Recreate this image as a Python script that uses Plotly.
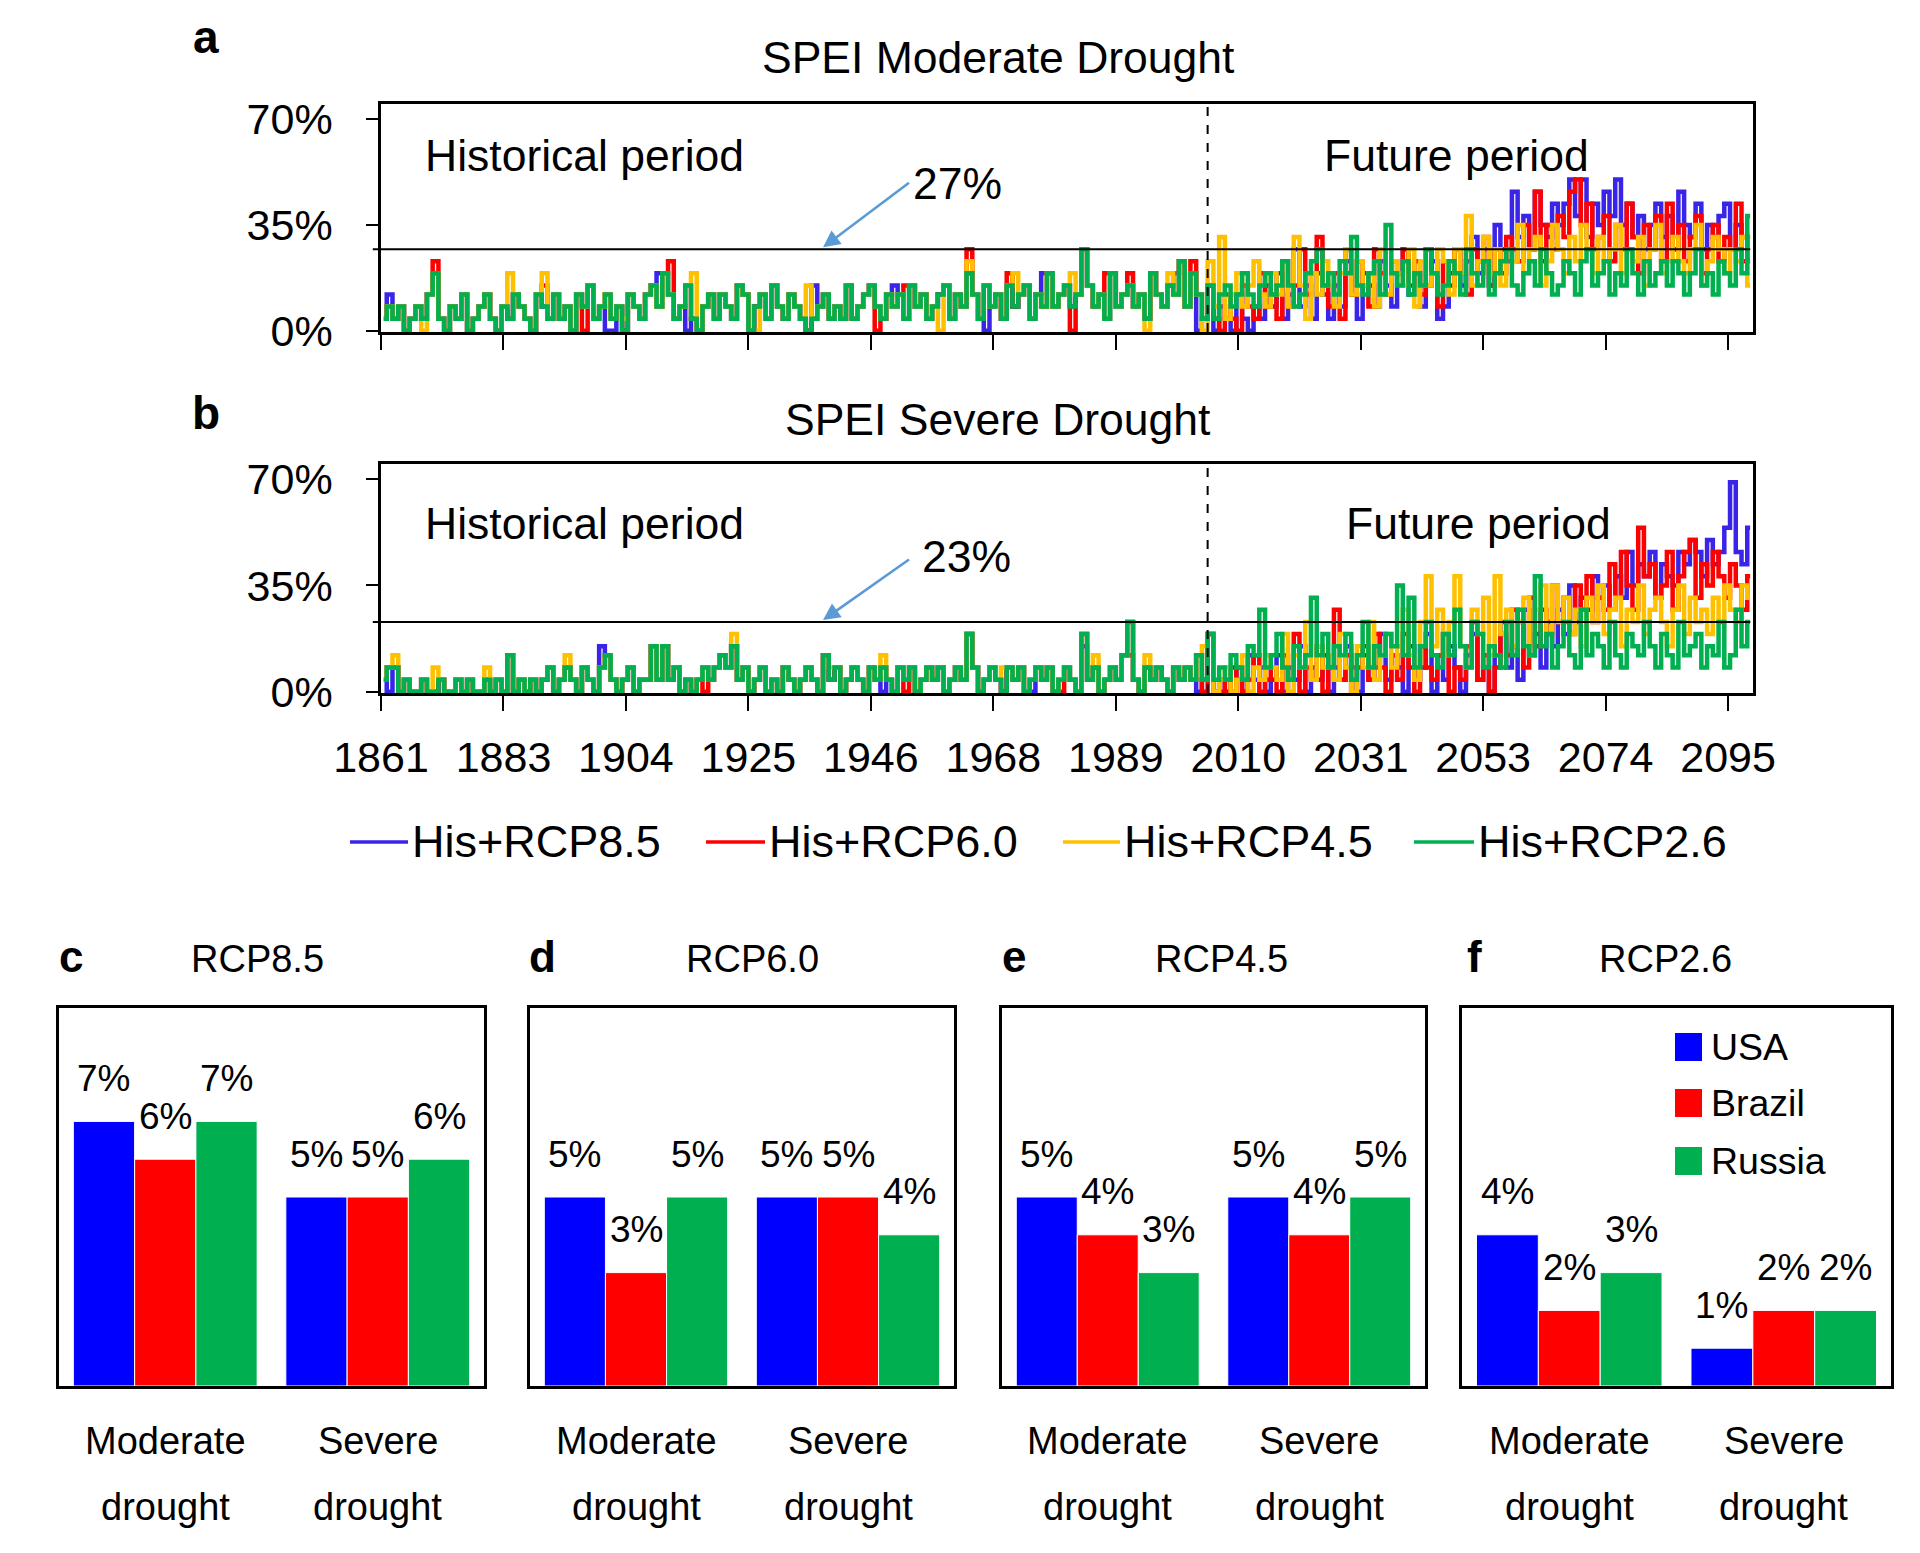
import plotly.graph_objects as go

W, H = 1920, 1553
FONT = "Liberation Sans, Arial, sans-serif"

# ---------------- time axis ----------------
years_his = list(range(1861, 2006))   # 145 years
years_fut = list(range(2006, 2100))   # 94 years
x_tick_labels = ["1861", "1883", "1904", "1925", "1946", "1968",
                 "1989", "2010", "2031", "2053", "2074", "2095"]
x_tick_step_years = 256 / 12
hist_end_year = 2005
thresholds = {"a": 27, "b": 23}

series_names = ["His+RCP8.5", "His+RCP6.0", "His+RCP4.5", "His+RCP2.6"]
line_colors = ["#3A24E8", "#FF0000", "#FFC000", "#00B050"]

# ---------------- panel a: SPEI moderate drought (% area) ----------------
a_his_85 = [4, 12, 4, 8, 0, 4, 8, 4, 12, 19,
            4, 0, 8, 4, 12, 0, 4, 8, 12, 4,
            0, 8, 4, 12, 8, 4, 0, 12, 8, 4,
            12, 4, 8, 0, 12, 8, 15, 4, 8, 0,
            0, 8, 0, 12, 8, 4, 12, 15, 19, 19,
            12, 4, 8, 0, 4, 0, 8, 12, 4, 12,
            8, 4, 15, 12, 0, 8, 12, 4, 15, 8,
            4, 12, 8, 4, 0, 15, 8, 12, 4, 8,
            4, 15, 4, 8, 12, 15, 8, 4, 12, 15,
            12, 4, 15, 8, 12, 4, 8, 12, 15, 4,
            12, 8, 19, 12, 4, 0, 8, 12, 4, 15,
            8, 12, 15, 4, 12, 19, 19, 8, 12, 15,
            8, 12, 27, 15, 8, 12, 4, 19, 8, 12,
            15, 8, 12, 4, 19, 12, 8, 15, 19, 23,
            8, 19, 0, 4, 15]
a_his_60 = [4, 8, 4, 8, 0, 4, 8, 4, 12, 23,
            4, 0, 8, 4, 12, 0, 4, 8, 12, 4,
            0, 8, 4, 12, 8, 4, 0, 12, 15, 4,
            12, 4, 8, 0, 12, 0, 15, 4, 8, 12,
            4, 8, 0, 12, 8, 4, 12, 15, 8, 19,
            23, 4, 8, 15, 4, 0, 8, 12, 4, 12,
            8, 4, 15, 12, 0, 8, 12, 4, 15, 8,
            4, 12, 8, 4, 0, 4, 8, 12, 4, 8,
            4, 15, 4, 8, 12, 15, 0, 4, 12, 8,
            12, 15, 15, 8, 12, 4, 8, 12, 15, 4,
            12, 8, 27, 12, 4, 15, 8, 12, 4, 19,
            8, 12, 15, 4, 12, 8, 19, 8, 12, 15,
            0, 12, 27, 15, 8, 12, 19, 19, 8, 12,
            19, 8, 12, 4, 19, 12, 8, 15, 12, 23,
            8, 23, 12, 4, 15]
a_his_45 = [4, 8, 4, 8, 0, 4, 8, 0, 12, 19,
            4, 0, 8, 4, 12, 0, 4, 8, 12, 4,
            0, 8, 19, 12, 8, 4, 0, 12, 19, 4,
            12, 4, 8, 0, 12, 8, 15, 4, 8, 12,
            4, 8, 4, 12, 8, 4, 12, 15, 8, 19,
            12, 4, 8, 15, 19, 0, 8, 12, 4, 12,
            8, 4, 15, 12, 0, 0, 12, 4, 15, 8,
            4, 12, 8, 4, 15, 4, 8, 12, 4, 8,
            4, 15, 4, 8, 12, 15, 8, 4, 12, 8,
            12, 4, 15, 8, 12, 4, 8, 0, 15, 4,
            12, 8, 23, 12, 4, 15, 8, 12, 4, 15,
            19, 12, 15, 4, 12, 8, 19, 8, 12, 15,
            19, 12, 27, 15, 8, 12, 4, 19, 8, 12,
            15, 8, 12, 0, 19, 12, 8, 19, 12, 23,
            8, 19, 12, 0, 23]
a_his_26 = [4, 8, 4, 8, 0, 4, 8, 4, 12, 19,
            4, 0, 8, 4, 12, 0, 4, 8, 12, 4,
            0, 8, 4, 12, 8, 4, 0, 12, 8, 4,
            12, 4, 8, 0, 12, 8, 15, 4, 8, 12,
            4, 8, 0, 12, 8, 4, 12, 15, 8, 19,
            12, 4, 8, 15, 4, 0, 8, 12, 4, 12,
            8, 4, 15, 12, 0, 8, 12, 4, 15, 8,
            4, 12, 8, 4, 0, 4, 8, 12, 4, 8,
            4, 15, 4, 8, 12, 15, 8, 4, 12, 8,
            12, 4, 15, 8, 12, 4, 8, 12, 15, 4,
            12, 8, 19, 12, 4, 15, 8, 12, 4, 15,
            8, 12, 15, 4, 12, 8, 19, 8, 12, 15,
            8, 12, 27, 15, 8, 12, 4, 19, 8, 12,
            15, 8, 12, 4, 19, 12, 8, 15, 12, 23,
            8, 19, 12, 4, 15]

a_fut_85 = [0, 8, 4, 0, 12, 4, 0, 8, 4, 15,
            8, 19, 4, 12, 27, 8, 15, 4, 19, 12,
            4, 15, 8, 23, 12, 4, 19, 15, 8, 23,
            15, 8, 19, 27, 12, 19, 8, 15, 23, 4,
            8, 19, 27, 15, 23, 31, 19, 27, 15, 35,
            27, 23, 46, 31, 38, 27, 46, 35, 31, 42,
            35, 42, 50, 38, 50, 31, 42, 35, 46, 38,
            50, 35, 42, 31, 38, 27, 35, 42, 31, 38,
            27, 46, 35, 31, 42, 27, 35, 31, 38, 42,
            27, 35, 31, 23]
a_fut_60 = [4, 0, 12, 4, 0, 15, 8, 4, 19, 8,
            12, 4, 23, 8, 15, 27, 12, 19, 31, 15,
            8, 19, 4, 27, 12, 23, 15, 8, 27, 19,
            12, 23, 19, 27, 15, 23, 12, 27, 19, 8,
            23, 15, 27, 19, 12, 27, 23, 31, 15, 27,
            19, 31, 27, 23, 35, 27, 46, 23, 35, 27,
            38, 31, 46, 50, 35, 42, 27, 31, 38, 23,
            35, 27, 42, 31, 19, 35, 27, 38, 23, 42,
            27, 35, 23, 31, 38, 19, 27, 35, 23, 31,
            27, 42, 23, 31]
a_fut_45 = [8, 31, 4, 12, 19, 8, 15, 23, 12, 8,
            19, 12, 23, 8, 31, 15, 4, 19, 12, 23,
            15, 8, 19, 27, 12, 23, 15, 19, 8, 27,
            12, 23, 19, 15, 27, 8, 23, 15, 19, 27,
            23, 12, 27, 19, 38, 15, 23, 31, 19, 27,
            15, 27, 23, 35, 19, 27, 31, 15, 23, 35,
            27, 19, 31, 23, 35, 27, 19, 31, 23, 27,
            35, 19, 27, 23, 31, 15, 27, 35, 19, 23,
            31, 23, 19, 27, 35, 15, 23, 31, 27, 19,
            27, 23, 31, 15]
a_fut_26 = [4, 12, 15, 8, 12, 19, 12, 8, 15, 19,
            12, 15, 23, 15, 8, 12, 19, 23, 27, 15,
            19, 12, 23, 19, 31, 15, 12, 19, 23, 12,
            35, 19, 15, 23, 12, 19, 15, 27, 19, 12,
            15, 23, 19, 12, 27, 19, 15, 23, 12, 19,
            23, 27, 15, 12, 19, 23, 15, 27, 19, 12,
            15, 23, 19, 12, 23, 27, 15, 19, 23, 12,
            19, 15, 27, 19, 12, 23, 15, 19, 23, 15,
            23, 19, 12, 19, 27, 15, 19, 12, 23, 19,
            15, 27, 19, 38]

# ---------------- panel b: SPEI severe drought (% area) ----------------
b_his_85 = [4, 0, 8, 0, 4, 0, 0, 4, 0, 0,
            4, 0, 0, 4, 0, 4, 0, 0, 4, 0,
            4, 0, 12, 0, 4, 0, 4, 0, 4, 8,
            0, 4, 8, 4, 0, 8, 4, 0, 15, 12,
            4, 0, 4, 8, 0, 4, 4, 15, 4, 15,
            4, 8, 0, 4, 0, 4, 8, 4, 8, 12,
            8, 15, 4, 8, 0, 4, 8, 0, 4, 0,
            8, 4, 0, 4, 8, 4, 0, 12, 4, 8,
            0, 4, 8, 4, 0, 8, 4, 0, 4, 0,
            8, 4, 8, 0, 4, 8, 4, 8, 0, 4,
            8, 4, 19, 8, 0, 4, 8, 4, 0, 8,
            4, 8, 0, 0, 8, 4, 8, 0, 4, 8,
            4, 0, 15, 4, 8, 0, 4, 8, 4, 12,
            23, 4, 0, 8, 4, 8, 4, 0, 8, 4,
            8, 4, 0, 4, 19]
b_his_60 = [4, 8, 8, 0, 4, 0, 0, 4, 0, 0,
            4, 0, 0, 4, 0, 4, 0, 0, 4, 0,
            4, 0, 12, 0, 4, 0, 4, 0, 4, 8,
            0, 4, 8, 4, 0, 8, 4, 0, 8, 12,
            4, 0, 4, 8, 0, 4, 4, 15, 4, 15,
            4, 8, 0, 4, 0, 4, 0, 4, 8, 12,
            8, 15, 4, 8, 0, 4, 8, 0, 4, 0,
            8, 4, 0, 4, 8, 4, 0, 12, 4, 8,
            0, 4, 8, 4, 0, 8, 4, 8, 4, 0,
            8, 0, 8, 0, 4, 8, 4, 8, 0, 4,
            8, 4, 19, 8, 0, 4, 8, 4, 0, 8,
            4, 8, 0, 4, 8, 4, 8, 0, 0, 8,
            4, 0, 19, 4, 8, 0, 4, 8, 4, 12,
            12, 4, 0, 8, 4, 8, 4, 0, 8, 4,
            8, 4, 12, 0, 19]
b_his_45 = [4, 8, 12, 0, 4, 0, 0, 4, 0, 8,
            4, 0, 0, 4, 0, 4, 0, 0, 8, 0,
            4, 0, 12, 0, 4, 0, 4, 0, 4, 8,
            0, 4, 12, 4, 0, 8, 4, 0, 8, 12,
            4, 0, 4, 8, 0, 4, 4, 15, 4, 15,
            4, 8, 0, 4, 0, 4, 8, 4, 8, 12,
            8, 19, 4, 8, 0, 4, 8, 0, 4, 0,
            8, 4, 0, 4, 8, 4, 0, 12, 8, 8,
            0, 4, 8, 4, 0, 8, 4, 12, 4, 0,
            8, 4, 8, 0, 4, 8, 4, 8, 0, 4,
            8, 4, 19, 8, 0, 4, 8, 4, 8, 8,
            4, 8, 0, 4, 8, 4, 8, 0, 4, 8,
            4, 0, 19, 4, 12, 0, 4, 8, 4, 12,
            23, 4, 0, 12, 4, 8, 4, 0, 8, 4,
            8, 4, 12, 15, 19]
b_his_26 = [4, 8, 8, 0, 4, 0, 0, 4, 0, 0,
            4, 0, 0, 4, 0, 4, 0, 0, 4, 0,
            4, 0, 12, 0, 4, 0, 4, 0, 4, 8,
            0, 4, 8, 4, 0, 8, 4, 0, 8, 12,
            4, 0, 4, 8, 0, 4, 4, 15, 4, 15,
            4, 8, 0, 4, 0, 4, 8, 4, 8, 12,
            8, 15, 4, 8, 0, 4, 8, 0, 4, 0,
            8, 4, 0, 4, 8, 4, 0, 12, 4, 8,
            0, 4, 8, 4, 0, 8, 4, 8, 4, 0,
            8, 4, 8, 0, 4, 8, 4, 8, 0, 4,
            8, 4, 19, 8, 0, 4, 8, 4, 0, 8,
            4, 8, 0, 4, 8, 4, 8, 0, 4, 8,
            4, 0, 19, 4, 8, 0, 4, 8, 4, 12,
            23, 4, 0, 8, 4, 8, 4, 0, 8, 4,
            8, 4, 12, 4, 19]

b_fut_85 = [0, 4, 0, 8, 4, 0, 12, 4, 8, 0,
            4, 12, 0, 8, 4, 15, 0, 8, 4, 12,
            0, 8, 4, 15, 8, 0, 12, 4, 8, 19,
            4, 12, 8, 0, 15, 4, 8, 19, 0, 12,
            4, 15, 8, 0, 12, 19, 4, 8, 0, 12,
            23, 8, 15, 4, 27, 12, 19, 8, 23, 15,
            27, 19, 35, 23, 31, 27, 38, 31, 35, 27,
            38, 31, 46, 35, 42, 38, 46, 31, 42, 38,
            35, 46, 42, 50, 46, 38, 50, 42, 46, 54,
            69, 46, 42, 54]
b_fut_60 = [0, 0, 4, 0, 8, 0, 4, 12, 0, 4,
            8, 0, 12, 4, 19, 0, 8, 4, 15, 0,
            8, 27, 4, 12, 0, 8, 15, 4, 19, 8,
            0, 12, 4, 19, 8, 0, 15, 8, 4, 12,
            19, 0, 8, 4, 15, 23, 4, 12, 0, 8,
            19, 12, 27, 23, 8, 31, 15, 27, 19, 35,
            23, 31, 19, 35, 27, 38, 23, 31, 27, 42,
            31, 46, 35, 27, 54, 38, 42, 31, 35, 46,
            27, 38, 46, 50, 31, 42, 35, 46, 38, 31,
            42, 35, 27, 38]
b_fut_45 = [0, 4, 8, 0, 4, 12, 0, 8, 4, 12,
            8, 4, 19, 0, 12, 8, 23, 4, 15, 8,
            12, 4, 19, 8, 0, 15, 8, 23, 4, 12,
            19, 8, 15, 27, 12, 4, 23, 38, 15, 27,
            12, 23, 38, 15, 8, 27, 19, 31, 12, 38,
            19, 27, 15, 23, 31, 12, 27, 35, 19, 35,
            23, 31, 19, 27, 15, 31, 23, 35, 19, 27,
            31, 15, 27, 23, 35, 19, 27, 31, 23, 15,
            27, 35, 19, 31, 23, 27, 19, 31, 23, 35,
            27, 23, 35, 31]
b_fut_26 = [4, 8, 4, 12, 8, 4, 15, 12, 27, 8,
            12, 19, 8, 4, 15, 8, 12, 31, 12, 19,
            8, 15, 12, 19, 4, 12, 23, 8, 15, 12,
            19, 15, 35, 12, 31, 8, 15, 23, 12, 8,
            19, 12, 27, 15, 8, 23, 19, 8, 15, 12,
            8, 23, 12, 27, 15, 12, 38, 15, 19, 8,
            15, 23, 12, 8, 27, 12, 19, 15, 8, 23,
            12, 8, 19, 15, 12, 23, 15, 8, 19, 12,
            8, 23, 12, 15, 19, 8, 15, 12, 23, 8,
            12, 27, 15, 23]

# ---------------- panels c-f: bars (%) ----------------
bar_categories = ["Moderate drought", "Severe drought"]
countries = ["USA", "Brazil", "Russia"]
bar_colors = ["#0000FF", "#FF0000", "#00B050"]
scenarios = ["RCP8.5", "RCP6.0", "RCP4.5", "RCP2.6"]
panel_letters = ["c", "d", "e", "f"]
usa_vals = {"RCP8.5": [7, 5], "RCP6.0": [5, 5], "RCP4.5": [5, 5], "RCP2.6": [4, 1]}
brazil_vals = {"RCP8.5": [6, 5], "RCP6.0": [3, 5], "RCP4.5": [4, 4], "RCP2.6": [2, 2]}
russia_vals = {"RCP8.5": [7, 6], "RCP6.0": [5, 4], "RCP4.5": [3, 5], "RCP2.6": [3, 2]}
country_vals = [usa_vals, brazil_vals, russia_vals]

# ---------------- layout helpers (pixel -> paper) ----------------
def px(x):
    return x / W

def py(y):
    return 1 - y / H

def note(text, x, y, xref="paper", yref="paper", size=44, xanchor="center", **kw):
    d = dict(text=text, x=x, y=y, xref=xref, yref=yref, showarrow=False,
             xanchor=xanchor, yanchor="middle", font=dict(size=size, family=FONT, color="black"))
    d.update(kw)
    return d

fig = go.Figure()

years_all = years_his + years_fut
x_mid = [yr + 0.5 for yr in years_all]

a_series = [a_his_85 + a_fut_85, a_his_60 + a_fut_60, a_his_45 + a_fut_45, a_his_26 + a_fut_26]
b_series = [b_his_85 + b_fut_85, b_his_60 + b_fut_60, b_his_45 + b_fut_45, b_his_26 + b_fut_26]

for name, col, ya, yb in zip(series_names, line_colors, a_series, b_series):
    fig.add_trace(go.Scatter(x=x_mid, y=ya, mode="lines", name=name,
                             line=dict(color=col, width=4.5, shape="hvh"), showlegend=False,
                             xaxis="x", yaxis="y"))
    fig.add_trace(go.Scatter(x=x_mid, y=yb, mode="lines", name=name,
                             line=dict(color=col, width=4.5, shape="hvh"), showlegend=False,
                             xaxis="x2", yaxis="y2"))

bar_panel_px = [(59, 484), (530, 954), (1002, 1425), (1462, 1891)]
bar_title_px = [257, 752, 1221, 1665]
bar_gap = 0.135
for k, scen in enumerate(scenarios):
    ax_id = str(k + 3)
    for j, (cn, col) in enumerate(zip(countries, bar_colors)):
        fig.add_trace(go.Bar(x=bar_categories, y=country_vals[j][scen], name=cn,
                             marker=dict(color=col, line=dict(color="white", width=1)),
                             showlegend=False, xaxis="x" + ax_id, yaxis="y" + ax_id))

axis_line = dict(showline=True, linecolor="black", linewidth=2.5, mirror=True,
                 showgrid=False, zeroline=False, automargin=False)
tfont = dict(family=FONT, size=43, color="black")

ts_x_dom = [px(381), px(1753)]
tick_vals = [1861 + i * x_tick_step_years for i in range(len(x_tick_labels))]
common_x = dict(axis_line, domain=ts_x_dom, range=[1861, 2100], tickvals=tick_vals,
                ticktext=x_tick_labels, ticks="outside", ticklen=15, tickwidth=2,
                tickcolor="black", tickfont=tfont)
common_y = dict(axis_line, range=[-0.4, 75], tickvals=[0, 35, 70],
                ticktext=["0%", "35%", "70%"], ticks="outside", ticklen=12, tickwidth=2,
                tickcolor="black", tickfont=tfont, ticklabelstandoff=25)

layout = dict(
    width=W, height=H, autosize=False,
    margin=dict(l=0, r=0, t=0, b=0, pad=0, autoexpand=False),
    paper_bgcolor="white", plot_bgcolor="white", showlegend=False,
    barmode="group", bargap=bar_gap, bargroupgap=0,
    font=dict(family=FONT, color="black"),
    xaxis=dict(common_x, anchor="y", showticklabels=False),
    yaxis=dict(common_y, anchor="x", domain=[py(332), py(104)]),
    xaxis2=dict(common_x, anchor="y2", showticklabels=True, ticklabelstandoff=10),
    yaxis2=dict(common_y, anchor="x2", domain=[py(693), py(464)]),
)
for k, (l, r) in enumerate(bar_panel_px):
    n = str(k + 3)
    layout["xaxis" + n] = dict(axis_line, domain=[px(l), px(r)], anchor="y" + n,
                               showticklabels=False, ticks="")
    layout["yaxis" + n] = dict(axis_line, domain=[py(1386), py(1008)], anchor="x" + n,
                               range=[0, 10], showticklabels=False, ticks="")
fig.update_layout(**layout)

shapes = []
annotations = []

# titles and panel letters (time series)
for txt, yy in [("SPEI Moderate Drought", 58), ("SPEI Severe Drought", 419)]:
    annotations.append(note(txt, px(998), py(yy), size=44.5))
for txt, yy in [("a", 37), ("b", 413)]:
    annotations.append(note("<b>%s</b>" % txt, px(206), py(yy), size=46))

for sfx, key, ylab in [("", "a", 58), ("2", "b", 55.5)]:
    xr, yr = "x" + sfx, "y" + sfx
    thr = thresholds[key]
    shapes.append(dict(type="line", xref=xr + " domain", yref=yr, x0=-0.006, x1=0.998,
                       y0=thr, y1=thr, line=dict(color="black", width=2)))
    shapes.append(dict(type="line", xref=xr, yref=yr + " domain", x0=hist_end_year,
                       x1=hist_end_year, y0=0, y1=1,
                       line=dict(color="black", width=2, dash="dash")))
    annotations.append(note("Historical period", 1896.5, ylab, xr, yr, size=44.5))
    fut_x = 2048.3 if key == "a" else 2052.1
    annotations.append(note("Future period", fut_x, ylab, xr, yr, size=44.5))
    # arrow pointing to threshold
    annotations.append(dict(text=" ", x=1938, y=thr + 0.6, xref=xr, yref=yr,
                            showarrow=True, ax=88, ay=-66 if key == "a" else -62,
                            arrowhead=2, arrowsize=1.3, arrowwidth=2.6,
                            arrowcolor="#5B9BD5", font=dict(size=2)))
    lab_y = 48.6 if key == "a" else 44.4
    lab_x = 1961.5 if key == "a" else 1963
    annotations.append(note("%d%%" % thr, lab_x, lab_y, xr, yr, size=44.5))

# line legend
leg_line_px = [(350, 408), (706, 765), (1063, 1120), (1414, 1474)]
for name, col, (x0, x1) in zip(series_names, line_colors, leg_line_px):
    shapes.append(dict(type="line", xref="paper", yref="paper", x0=px(x0), x1=px(x1),
                       y0=py(842), y1=py(842), line=dict(color=col, width=3.5)))
    annotations.append(note(name, px(x1 + 2), py(842), xanchor="left", size=45))

# bar panels
for k, scen in enumerate(scenarios):
    n = str(k + 3)
    l, r = bar_panel_px[k]
    annotations.append(note(scen, px(bar_title_px[k]), py(959), size=38))
    annotations.append(note("<b>%s</b>" % panel_letters[k], px(l + 12), py(956), size=44))
    bar_px = (r - l) / 2 * (1 - bar_gap) / 3
    for j in range(3):
        for ci, cat in enumerate(bar_categories):
            v = country_vals[j][scen][ci]
            annotations.append(note("%d%%" % v, cat, v, "x" + n, "y" + n, size=37,
                                    xshift=(j - 1) * bar_px, yshift=43))
    for cat in bar_categories:
        w1, w2 = cat.split(" ")
        annotations.append(note(w1, cat, py(1441), "x" + n, "paper", size=38))
        annotations.append(note(w2, cat, py(1507), "x" + n, "paper", size=38))

# bar legend inside panel f
for cn, col, yy in zip(countries, bar_colors, [1047, 1103, 1161]):
    shapes.append(dict(type="rect", xref="paper", yref="paper", x0=px(1675), x1=px(1702),
                       y0=py(yy + 14), y1=py(yy - 14), fillcolor=col, line=dict(width=0)))
    annotations.append(note(cn, px(1709), py(yy), size=37.5, xanchor="left"))

fig.update_layout(shapes=shapes, annotations=annotations)
fig.write_html("out.html")
